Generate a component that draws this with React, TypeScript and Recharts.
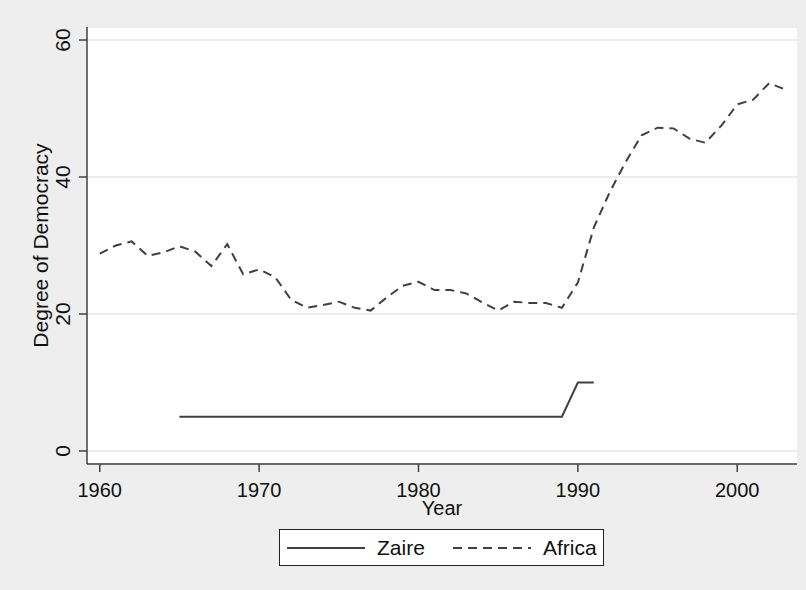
import React from "react";
import {
	CartesianGrid,
	Legend,
	Line,
	LineChart,
	XAxis,
	YAxis,
} from "recharts";

const years = [
	1960, 1961, 1962, 1963, 1964, 1965, 1966, 1967, 1968, 1969, 1970, 1971,
	1972, 1973, 1974, 1975, 1976, 1977, 1978, 1979, 1980, 1981, 1982, 1983,
	1984, 1985, 1986, 1987, 1988, 1989, 1990, 1991, 1992, 1993, 1994, 1995,
	1996, 1997, 1998, 1999, 2000, 2001, 2002, 2003,
];

const africa = [
	28.8, 30.0, 30.6, 28.5, 29.0, 29.9, 29.1, 27.0, 30.2, 25.8, 26.5, 25.4,
	22.1, 20.9, 21.3, 21.8, 20.9, 20.5, 22.4, 24.1, 24.7, 23.5, 23.5, 23.0,
	21.7, 20.5, 21.8, 21.6, 21.6, 20.9, 24.6, 32.6, 37.8, 42.2, 46.1, 47.2,
	47.1, 45.6, 45.0, 47.5, 50.6, 51.3, 53.7, 52.8,
];

// Zaire series only covers 1965-1991
const zaireYears = [
	1965, 1966, 1967, 1968, 1969, 1970, 1971, 1972, 1973, 1974, 1975, 1976,
	1977, 1978, 1979, 1980, 1981, 1982, 1983, 1984, 1985, 1986, 1987, 1988,
	1989, 1990, 1991,
];
const zaire = [
	5, 5, 5, 5, 5, 5, 5, 5, 5, 5, 5, 5, 5, 5, 5, 5, 5, 5, 5, 5, 5, 5, 5, 5, 5,
	10, 10,
];

const seriesOrder = ["Zaire", "Africa"];
const xTicks = [1960, 1970, 1980, 1990, 2000];
const yTicks = [0, 20, 40, 60];

const data = years.map((year, i) => {
	const zi = zaireYears.indexOf(year);
	return {
		year,
		africa: africa[i],
		zaire: zi >= 0 ? zaire[zi] : null,
	};
});

const FONT = '"Liberation Sans", Arial, sans-serif';
const FS = 21;
const INK = "#404040";

const XTick = (props: any) => {
	const { x, y, payload } = props;
	return (
		<text
			x={x}
			y={y + 23}
			textAnchor='middle'
			fontSize={20}
			fontFamily={FONT}
			fill='#111'
		>
			{payload.value}
		</text>
	);
};

const YTick = (props: any) => {
	const { x, y, payload } = props;
	return (
		<text
			x={x}
			y={y}
			transform={`rotate(-90 ${x} ${y})`}
			textAnchor='middle'
			fontSize={FS}
			fontFamily={FONT}
			fill='#111'
			dy={-7}
		>
			{payload.value}
		</text>
	);
};

const renderLegend = (props: any) => {
	const items = [...(props.payload || [])].sort(
		(a: any, b: any) => seriesOrder.indexOf(a.value) - seriesOrder.indexOf(b.value)
	);
	return (
		<div
			style={{
				boxSizing: "border-box",
				width: 325,
				height: 37,
				background: "#fff",
				border: "1px solid #222",
				position: "relative",
				fontFamily: FONT,
				fontSize: FS,
				color: "#111",
			}}
		>
			{items.map((item: any, i: number) => (
				<div
					key={item.value}
					style={{
						position: "absolute",
						left: i === 0 ? 7 : 173,
						top: 0,
						height: 35,
						display: "flex",
						alignItems: "center",
					}}
				>
					<svg width={78} height={10} style={{ display: "block" }}>
						<line
							x1={0}
							x2={78}
							y1={5}
							y2={5}
							stroke={INK}
							strokeWidth={2}
							strokeDasharray={item.payload?.strokeDasharray}
						/>
					</svg>
					<span style={{ marginLeft: 12, lineHeight: "35px" }}>
						{item.value}
					</span>
				</div>
			))}
		</div>
	);
};

export default function App() {
	return (
		<div
			style={{
				position: "absolute",
				left: 0,
				top: 0,
				width: 806,
				height: 590,
				background: "#eeeeee",
			}}
		>
			<LineChart
				width={806}
				height={590}
				data={data}
				margin={{ top: 27, right: 9, left: 0, bottom: 39 }}
			>
				<CartesianGrid
					vertical={false}
					stroke='#ececec'
					strokeWidth={2}
					fill='#ffffff'
				/>
				<XAxis
					dataKey='year'
					type='number'
					domain={[1959.2, 2003.75]}
					ticks={xTicks}
					allowDataOverflow
					height={50}
					tickSize={8}
					stroke={INK}
					strokeWidth={1.5}
					tickLine={{ stroke: INK, strokeWidth: 1.5 }}
					tick={<XTick />}
					label={{
						content: (p: any) => (
							<text
								x={p.viewBox.x + p.viewBox.width / 2}
								y={p.viewBox.y + 51}
								textAnchor='middle'
								fontSize={20}
								fontFamily={FONT}
								fill='#111'
							>
								Year
							</text>
						),
					}}
				/>
				<YAxis
					type='number'
					domain={[-1.9, 61.9]}
					ticks={yTicks}
					allowDataOverflow
					width={87}
					tickSize={8}
					stroke={INK}
					strokeWidth={1.5}
					tickLine={{ stroke: INK, strokeWidth: 1.5 }}
					tick={<YTick />}
					label={{
						content: (p: any) => {
							const cx = 48;
							const cy = p.viewBox.y + p.viewBox.height / 2;
							return (
								<text
									x={cx}
									y={cy}
									transform={`rotate(-90 ${cx} ${cy})`}
									textAnchor='middle'
									fontSize={FS}
									fontFamily={FONT}
									fill='#111'
								>
									Degree of Democracy
								</text>
							);
						},
					}}
				/>
				<Line
					dataKey='zaire'
					name='Zaire'
					stroke={INK}
					strokeWidth={2}
					dot={false}
					activeDot={false}
					connectNulls={false}
					isAnimationActive={false}
				/>
				<Line
					dataKey='africa'
					name='Africa'
					stroke={INK}
					strokeWidth={2}
					strokeDasharray='9 6'
					dot={false}
					activeDot={false}
					isAnimationActive={false}
				/>
				<Legend
					content={renderLegend}
					wrapperStyle={{
						position: "absolute",
						left: 279,
						top: 529,
						width: 325,
						height: 37,
					}}
				/>
			</LineChart>
		</div>
	);
}
